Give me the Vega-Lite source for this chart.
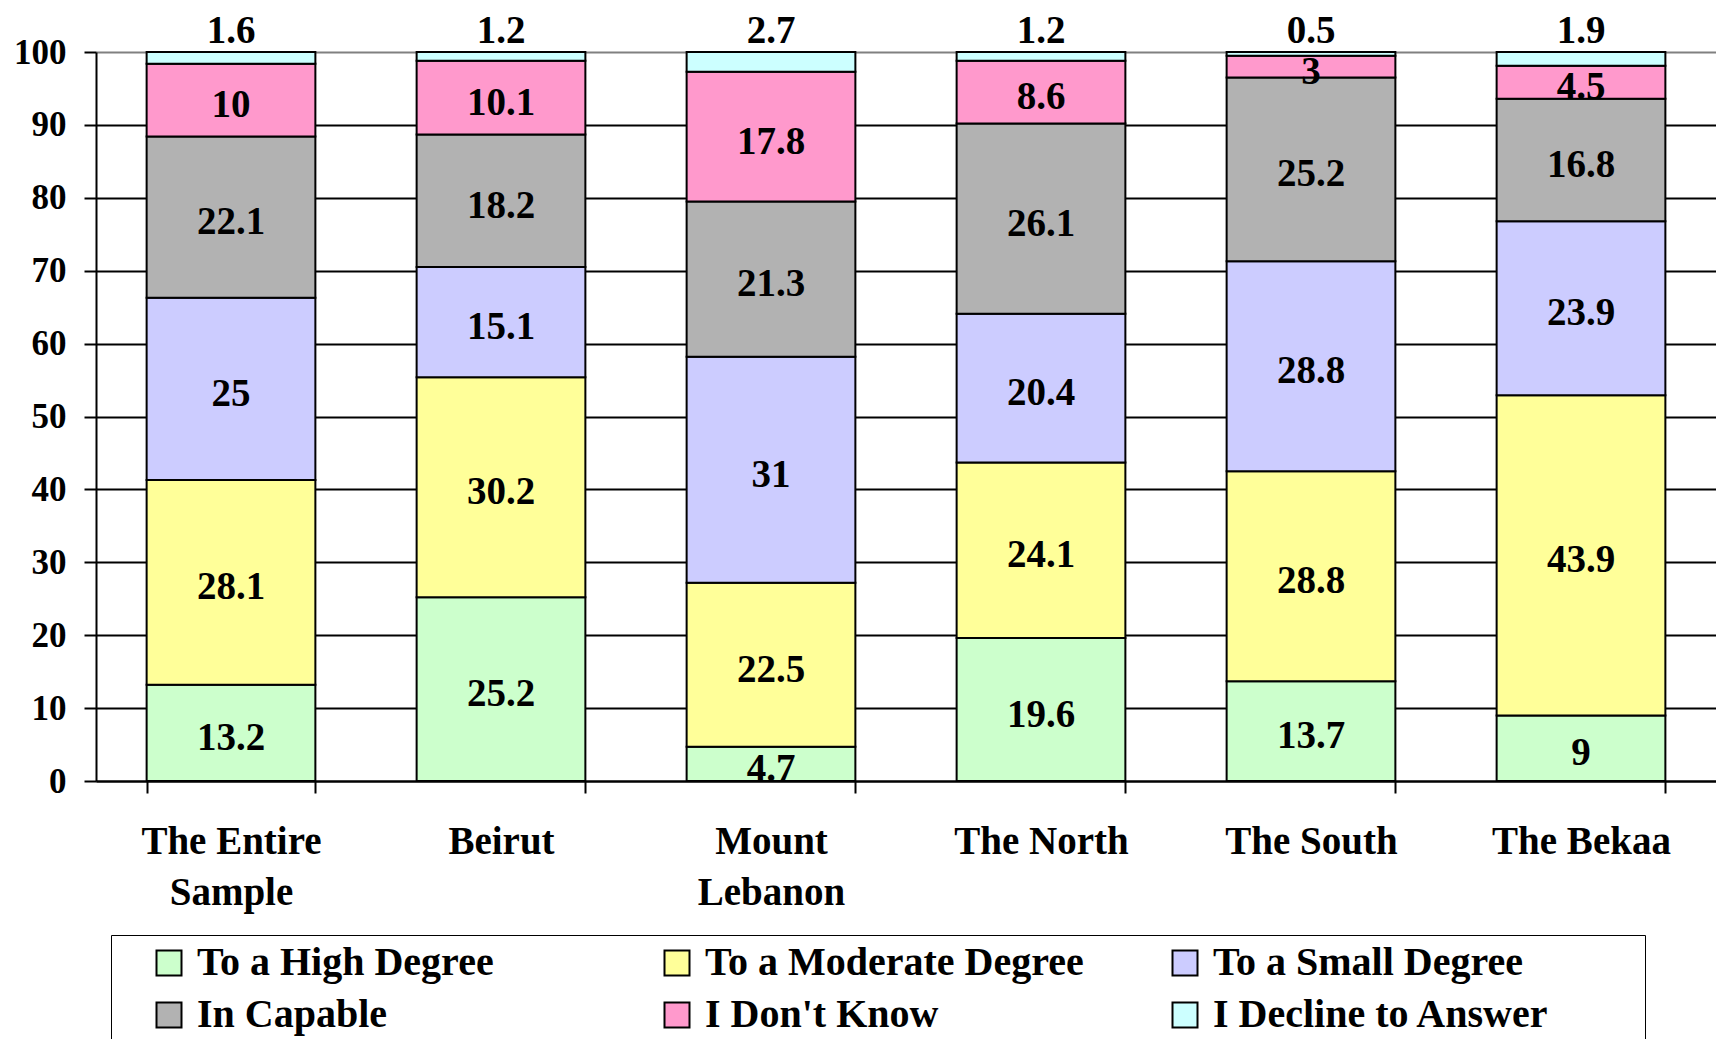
{
  "$schema": "https://vega.github.io/schema/vega-lite/v6.json",
  "width": 1620,
  "height": 729,
  "autosize": {"type": "none"},
  "padding": {"left": 96, "top": 52, "right": 0, "bottom": 258},
  "background": "white",
  "config": {"view": {"stroke": null}, "font": "Liberation Serif"},
  "data": {
    "values": [
      {"region": "The Entire Sample", "response": "To a High Degree", "order": 1, "value": 13.2},
      {"region": "The Entire Sample", "response": "To a Moderate Degree", "order": 2, "value": 28.1},
      {"region": "The Entire Sample", "response": "To a Small Degree", "order": 3, "value": 25},
      {"region": "The Entire Sample", "response": "In Capable", "order": 4, "value": 22.1},
      {"region": "The Entire Sample", "response": "I Don't Know", "order": 5, "value": 10},
      {"region": "The Entire Sample", "response": "I Decline to Answer", "order": 6, "value": 1.6},
      {"region": "Beirut", "response": "To a High Degree", "order": 1, "value": 25.2},
      {"region": "Beirut", "response": "To a Moderate Degree", "order": 2, "value": 30.2},
      {"region": "Beirut", "response": "To a Small Degree", "order": 3, "value": 15.1},
      {"region": "Beirut", "response": "In Capable", "order": 4, "value": 18.2},
      {"region": "Beirut", "response": "I Don't Know", "order": 5, "value": 10.1},
      {"region": "Beirut", "response": "I Decline to Answer", "order": 6, "value": 1.2},
      {"region": "Mount Lebanon", "response": "To a High Degree", "order": 1, "value": 4.7},
      {"region": "Mount Lebanon", "response": "To a Moderate Degree", "order": 2, "value": 22.5},
      {"region": "Mount Lebanon", "response": "To a Small Degree", "order": 3, "value": 31},
      {"region": "Mount Lebanon", "response": "In Capable", "order": 4, "value": 21.3},
      {"region": "Mount Lebanon", "response": "I Don't Know", "order": 5, "value": 17.8},
      {"region": "Mount Lebanon", "response": "I Decline to Answer", "order": 6, "value": 2.7},
      {"region": "The North", "response": "To a High Degree", "order": 1, "value": 19.6},
      {"region": "The North", "response": "To a Moderate Degree", "order": 2, "value": 24.1},
      {"region": "The North", "response": "To a Small Degree", "order": 3, "value": 20.4},
      {"region": "The North", "response": "In Capable", "order": 4, "value": 26.1},
      {"region": "The North", "response": "I Don't Know", "order": 5, "value": 8.6},
      {"region": "The North", "response": "I Decline to Answer", "order": 6, "value": 1.2},
      {"region": "The South", "response": "To a High Degree", "order": 1, "value": 13.7},
      {"region": "The South", "response": "To a Moderate Degree", "order": 2, "value": 28.8},
      {"region": "The South", "response": "To a Small Degree", "order": 3, "value": 28.8},
      {"region": "The South", "response": "In Capable", "order": 4, "value": 25.2},
      {"region": "The South", "response": "I Don't Know", "order": 5, "value": 3},
      {"region": "The South", "response": "I Decline to Answer", "order": 6, "value": 0.5},
      {"region": "The Bekaa", "response": "To a High Degree", "order": 1, "value": 9},
      {"region": "The Bekaa", "response": "To a Moderate Degree", "order": 2, "value": 43.9},
      {"region": "The Bekaa", "response": "To a Small Degree", "order": 3, "value": 23.9},
      {"region": "The Bekaa", "response": "In Capable", "order": 4, "value": 16.8},
      {"region": "The Bekaa", "response": "I Don't Know", "order": 5, "value": 4.5},
      {"region": "The Bekaa", "response": "I Decline to Answer", "order": 6, "value": 1.9}
    ]
  },
  "encoding": {
    "x": {
      "field": "region", "type": "nominal", "sort": null,
      "scale": {"paddingInner": 0.375, "paddingOuter": 0.1875},
      "axis": {
        "title": null, "labelAngle": 0, "grid": false, "labelLimit": 600,
        "labelFont": "Liberation Serif", "labelFontWeight": "bold", "labelFontSize": 39, "labelColor": "black",
        "labelPadding": 29, "labelLineHeight": 51, "labelBaseline": "top",
        "tickBand": "extent", "tickSize": 12, "tickColor": "black", "tickWidth": 2,
        "domainColor": "black", "domainWidth": 2,
        "labelExpr": "datum.label == 'The Entire Sample' ? ['The Entire', 'Sample'] : datum.label == 'Mount Lebanon' ? ['Mount', 'Lebanon'] : datum.label"
      }
    },
    "order": {"field": "order", "type": "quantitative"},
    "detail": {"field": "response", "type": "nominal"}
  },
  "layer": [
    {
      "mark": {"type": "bar", "stroke": "black", "strokeWidth": 2, "opacity": 1},
      "encoding": {
        "y": {
          "field": "value", "type": "quantitative", "stack": "zero",
          "scale": {"domain": [0, 100], "nice": false},
          "axis": {
            "title": null, "values": [0, 10, 20, 30, 40, 50, 60, 70, 80, 90, 100],
            "labelFont": "Liberation Serif", "labelFontWeight": "bold", "labelFontSize": 35, "labelColor": "black",
            "labelPadding": 18, "tickSize": 12, "tickColor": "black", "tickWidth": 2,
            "domainColor": "black", "domainWidth": 2,
            "grid": true, "gridWidth": 2,
            "gridColor": {"condition": {"test": "datum.value == 100", "value": "#808080"}, "value": "black"}
          }
        },
        "color": {
          "field": "response", "type": "nominal", "sort": null,
          "scale": {
            "domain": ["To a High Degree", "To a Moderate Degree", "To a Small Degree", "In Capable", "I Don't Know", "I Decline to Answer"],
            "range": ["#CCFFCC", "#FFFF99", "#CCCCFF", "#B2B2B2", "#FF99CC", "#CCFFFF"]
          },
          "legend": {
            "orient": "none", "legendX": 15, "legendY": 883,
            "direction": "horizontal", "columns": 3, "gridAlign": "all",
            "title": "\u2800", "titleOrient": "left", "titleFontSize": 38, "titlePadding": 0, "titleFont": "DejaVu Sans",
            "symbolType": "square", "symbolSize": 625, "symbolStrokeColor": "black", "symbolStrokeWidth": 2, "symbolOpacity": 1,
            "labelFont": "Liberation Serif", "labelFontWeight": "bold", "labelFontSize": 40, "labelColor": "black",
            "labelLimit": 2000, "labelOffset": 8,
            "labelExpr": "datum.label == 'I Decline to Answer' ? datum.label + '\u2800\u2800\u2800' : datum.label",
            "columnPadding": 36, "rowPadding": 12,
            "strokeColor": "black", "padding": 8
          }
        }
      }
    },
    {
      "transform": [{"filter": "datum.response != 'I Decline to Answer'"}],
      "mark": {"type": "text", "font": "Liberation Serif", "fontWeight": "bold", "fontSize": 39, "baseline": "middle", "dy": 5, "color": "black"},
      "encoding": {
        "y": {"field": "value", "type": "quantitative", "stack": "zero", "bandPosition": 0.5},
        "text": {"field": "value", "type": "nominal"}
      }
    },
    {
      "mark": {"type": "text", "font": "Liberation Serif", "fontWeight": "bold", "fontSize": 39, "baseline": "alphabetic", "dy": -9, "color": "black"},
      "encoding": {
        "y": {"field": "value", "type": "quantitative", "stack": "zero"},
        "text": {"condition": {"test": "datum.response != 'I Decline to Answer'", "value": ""}, "field": "value", "type": "nominal"}
      }
    }
  ]
}
